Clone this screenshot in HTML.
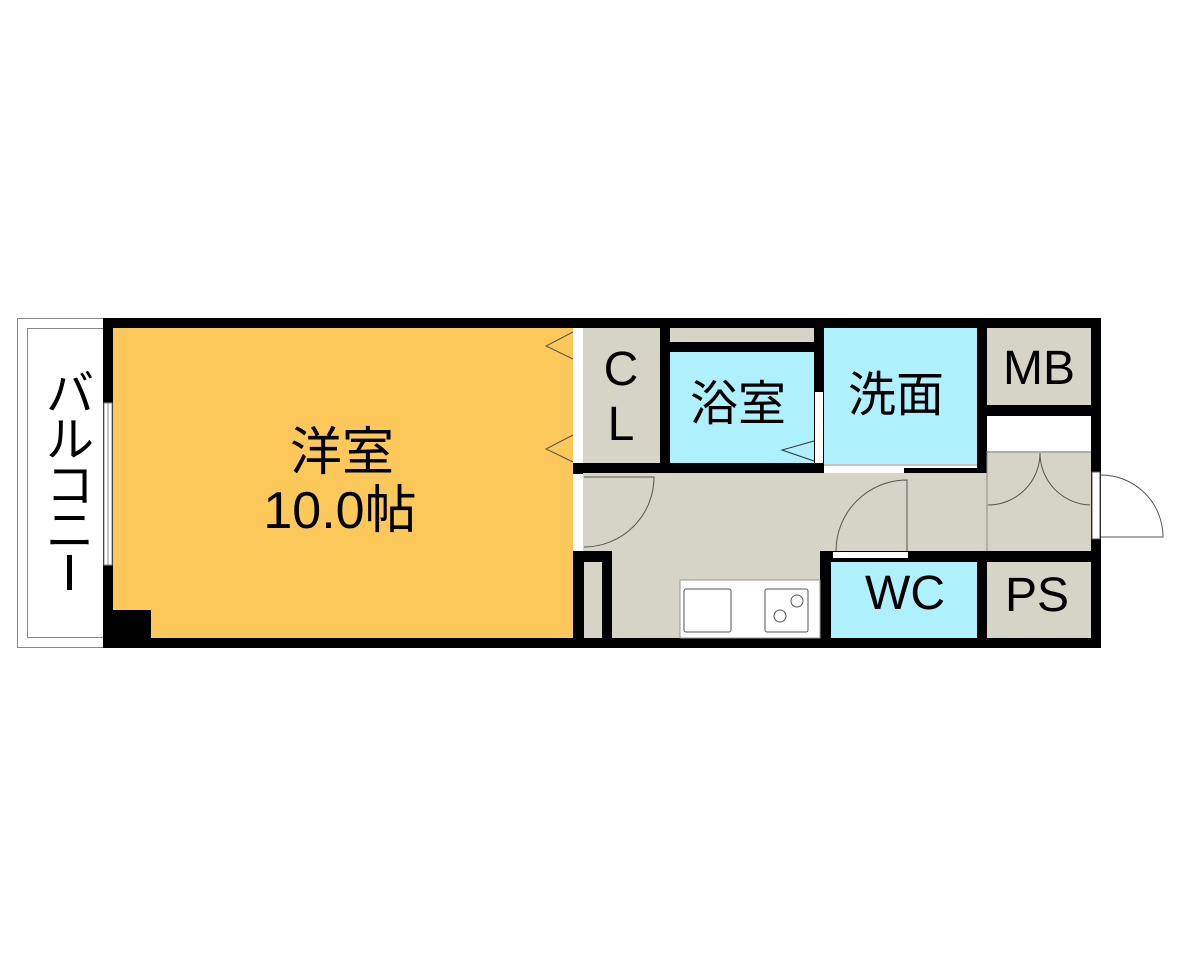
<!DOCTYPE html>
<html><head><meta charset="utf-8"><style>
html,body{margin:0;padding:0;background:#fff;}
svg{display:block;}
text{font-family:"Liberation Sans","Noto Sans CJK JP",sans-serif;fill:#000;}
</style></head><body>
<svg width="1200" height="960" viewBox="0 0 1200 960" xmlns="http://www.w3.org/2000/svg">
<rect width="1200" height="960" fill="#fff"/>
<rect x="17.5" y="318.5" width="86" height="329" fill="#fff" stroke="#888" stroke-width="1"/>
<rect x="27.5" y="328.5" width="76" height="309" fill="#fff" stroke="#888" stroke-width="1"/>
<rect x="103" y="318" width="998" height="330" fill="#000"/>
<rect x="113" y="328" width="460" height="310" fill="#fcc85a"/>
<rect x="113" y="610" width="38" height="28" fill="#000"/>
<rect x="104" y="403" width="8" height="162" fill="#fff" stroke="#888" stroke-width="1"/>
<line x1="108" y1="403" x2="108" y2="565" stroke="#888" stroke-width="1"/>
<rect x="573" y="328" width="10" height="135" fill="#fff"/>
<polyline points="573,332 546,346 573,359" fill="none" stroke="#555" stroke-width="1"/>
<polyline points="573,435 546,449 573,462" fill="none" stroke="#555" stroke-width="1"/>
<rect x="583" y="328" width="77" height="135" fill="#d6d3c7"/>
<rect x="670" y="328" width="144" height="14" fill="#d6d3c7"/>
<rect x="670" y="352" width="144" height="111" fill="#aef0fb"/>
<polyline points="814,441 782,450 814,461" fill="none" stroke="#333" stroke-width="1"/>
<rect x="815" y="392" width="8" height="71" fill="#fff"/>
<rect x="824" y="328" width="153" height="137" fill="#aef0fb"/>
<rect x="824" y="464" width="153" height="4" fill="#fff"/>
<rect x="824" y="465" width="80" height="9" fill="#fff"/>
<line x1="824" y1="465" x2="977" y2="465" stroke="#888" stroke-width="1"/>
<rect x="987" y="328" width="104" height="77" fill="#d6d3c7"/>
<rect x="987" y="416" width="104" height="35" fill="#fff"/>
<rect x="583" y="473" width="404" height="78" fill="#d6d3c7"/>
<rect x="987" y="451" width="104" height="100" fill="#d6d3c7"/>
<line x1="987" y1="451" x2="987" y2="551" stroke="#888" stroke-width="1"/>
<line x1="987" y1="452" x2="1091" y2="452" stroke="#888" stroke-width="1"/>
<rect x="612" y="551" width="208" height="87" fill="#d6d3c7"/>
<rect x="573" y="474" width="10" height="77" fill="#fff"/>
<rect x="584" y="562" width="18" height="76" fill="#d6d3c7"/>
<path d="M584,477 L654,477 A70,70 0 0 1 584,547" fill="none" stroke="#555" stroke-width="1"/>
<rect x="831" y="562" width="146" height="76" fill="#aef0fb"/>
<rect x="833" y="552" width="75" height="6" fill="#fff"/>
<path d="M907,551 L907,480 A71,71 0 0 0 836,551" fill="none" stroke="#555" stroke-width="1"/>
<rect x="987" y="562" width="104" height="76" fill="#d6d3c7"/>
<path d="M988,505 A52,52 0 0 0 1040,453" fill="none" stroke="#555" stroke-width="1"/>
<path d="M1090,505 A52,52 0 0 1 1040,453" fill="none" stroke="#555" stroke-width="1"/>
<rect x="1092" y="472" width="8" height="67" fill="#fff" stroke="#555" stroke-width="1"/>
<path d="M1101,475 A62,62 0 0 1 1163,537 L1101,537" fill="none" stroke="#555" stroke-width="1"/>
<rect x="680" y="580" width="140" height="58" fill="#fff" stroke="#999" stroke-width="1"/>
<rect x="684" y="589" width="47" height="43" rx="2" fill="#fff" stroke="#555" stroke-width="1"/>
<rect x="765" y="589" width="43" height="43" rx="2" fill="#fff" stroke="#555" stroke-width="1"/>
<circle cx="797" cy="601" r="6" fill="none" stroke="#555" stroke-width="1"/>
<circle cx="780" cy="616" r="6" fill="none" stroke="#555" stroke-width="1"/>
<text x="342" y="470" font-size="52" text-anchor="middle">洋室</text>
<text x="340" y="528" font-size="52" text-anchor="middle">10.0帖</text>
<text x="70" y="410" font-size="48" text-anchor="middle">バ</text>
<text x="70" y="456" font-size="48" text-anchor="middle">ル</text>
<text x="70" y="502" font-size="48" text-anchor="middle">コ</text>
<text x="70" y="547" font-size="48" text-anchor="middle">ニ</text>
<rect x="67" y="555" width="5" height="35" fill="#000"/>
<text x="621" y="385" font-size="48" text-anchor="middle">C</text>
<text x="621" y="440" font-size="48" text-anchor="middle">L</text>
<text x="738" y="420" font-size="48" text-anchor="middle">浴室</text>
<text x="896" y="411" font-size="48" text-anchor="middle">洗面</text>
<text x="1039" y="384" font-size="48" text-anchor="middle">MB</text>
<text x="905" y="609" font-size="48" text-anchor="middle">WC</text>
<text x="1037" y="611" font-size="48" text-anchor="middle">PS</text>
</svg>
</body></html>
